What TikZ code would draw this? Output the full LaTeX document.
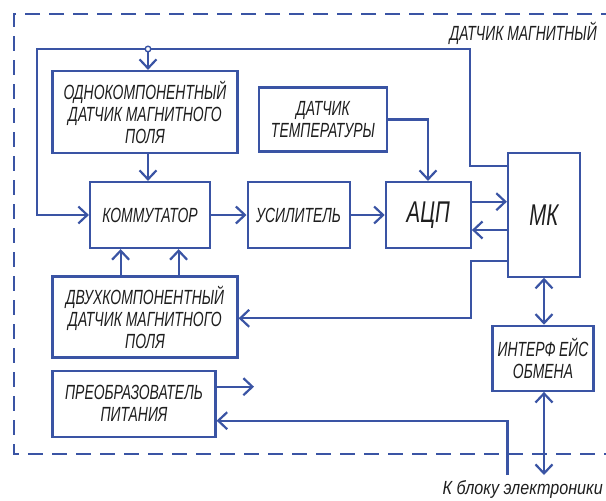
\documentclass[tikz,border=0pt]{standalone}
\usepackage{fontspec}
\newfontfamily\nar[FakeStretch=0.68]{Liberation Sans}
\newfontfamily\narb[FakeStretch=0.85]{Liberation Sans}
\usetikzlibrary{arrows.meta}
\definecolor{lnblue}{RGB}{58,84,164}
\definecolor{txt}{RGB}{30,30,30}
\begin{document}
\begin{tikzpicture}[x=1pt,y=-1pt,
  blk/.style={draw=lnblue,line width=2.2pt,rectangle,inner sep=0pt,align=center,
    text=txt,font=\nar\itshape\fontsize{20.5}{22}\selectfont},
  big/.style={font=\nar\itshape\fontsize{30}{30}\selectfont},
  con/.style={draw=lnblue,line width=2.2pt,line join=miter},
  arr/.style={con,-{Straight Barb[length=9pt,width=17pt,line width=2.2pt]}},
  darr/.style={con,{Straight Barb[length=9pt,width=17pt,line width=2.2pt]}-{Straight Barb[length=9pt,width=17pt,line width=2.2pt]}},
  lbl/.style={text=txt,inner sep=0pt,font=\nar\itshape\fontsize{20.5}{22}\selectfont}]
\useasboundingbox (0,0) rectangle (606,501);
% dashed enclosure
\draw[draw=lnblue,line width=2.2pt,dash pattern=on 15pt off 9pt] (640,14) -- (14,14) -- (14,454) -- (640,454);
% blocks
\node[blk,minimum width=185pt,minimum height=82pt] (odn) at (145,112) {ОДНОКОМПОНЕНТНЫЙ\\ДАТЧИК МАГНИТНОГО\\ПОЛЯ};
\node[blk,minimum width=128pt,minimum height=64pt] (temp) at (323,119.5) {ДАТЧИК\\ТЕМПЕРАТУРЫ};
\node[blk,minimum width=120pt,minimum height=66pt] (kom) at (150,215) {КОММУТАТОР};
\node[blk,minimum width=102pt,minimum height=66pt] (usil) at (298.6,215) {УСИЛИТЕЛЬ};
\node[blk,big,minimum width=85pt,minimum height=66pt] (adc) at (428.3,215) {АЦП};
\node[blk,big,minimum width=72pt,minimum height=124pt] (mk) at (544,214.7) {МК};
\node[blk,minimum width=185pt,minimum height=81pt] (dvuh) at (145,317) {ДВУХКОМПОНЕНТНЫЙ\\ДАТЧИК МАГНИТНОГО\\ПОЛЯ};
\node[blk,minimum width=101pt,minimum height=65pt] (intf) at (543,358.3) {ИНТЕРФ\,ЕЙС\\ОБМЕНА};
\node[blk,minimum width=163pt,minimum height=66pt] (preob) at (134,403.8) {ПРЕОБРАЗОВАТЕЛЬ\\ПИТАНИЯ};
% labels
\node[lbl,anchor=east] (title) at (597,33) {ДАТЧИК МАГНИТНЫЙ};
\node[lbl,anchor=east,font=\narb\itshape\fontsize{19}{20}\selectfont] (ext) at (603,489) {К блоку электроники};
% coordinates
\coordinate (dot) at (148,49);
\coordinate (ext1) at (507.5,475);
\coordinate (ext2) at (544,475);
\coordinate (pout) at (254,386.7);
% connectors
\draw[arr] (mk.west |- 0,165.7) -- (470,165.7) -- (470,49) -- (36.7,49) -- (36.7,215) -- (kom.west);
\draw[arr] (dot) -- (odn.north -| dot);
\draw[draw=lnblue,line width=1.4pt,fill=white] (dot) circle (2.8pt);
\draw[arr] (odn.south -| 148,0) -- (kom.north -| 148,0);
\draw[arr] (temp.east) -- (428,119.5) -- (adc.north -| 428,0);
\draw[arr] (kom) -- (usil);
\draw[arr] (usil) -- (adc);
\draw[arr] (adc.east |- 0,201.7) -- (mk.west |- 0,201.7);
\draw[arr] (mk.west |- 0,230) -- (adc.east |- 0,230);
\draw[arr] (mk.west |- 0,261) -- (470.8,261) -- (470.8,318.3) -- (dvuh.east |- 0,318.3);
\draw[arr] (dvuh.north -| 120.6,0) -- (kom.south -| 120.6,0);
\draw[arr] (dvuh.north -| 178.6,0) -- (kom.south -| 178.6,0);
\draw[darr] (mk.south -| 544,0) -- (intf.north -| 544,0);
\draw[darr] (intf.south -| 544,0) -- (ext2);
\draw[arr] (preob.east |- pout) -- (pout);
\draw[arr] (ext1) -- (507.5,420.7) -- (preob.east |- 0,420.7);
\end{tikzpicture}
\end{document}
